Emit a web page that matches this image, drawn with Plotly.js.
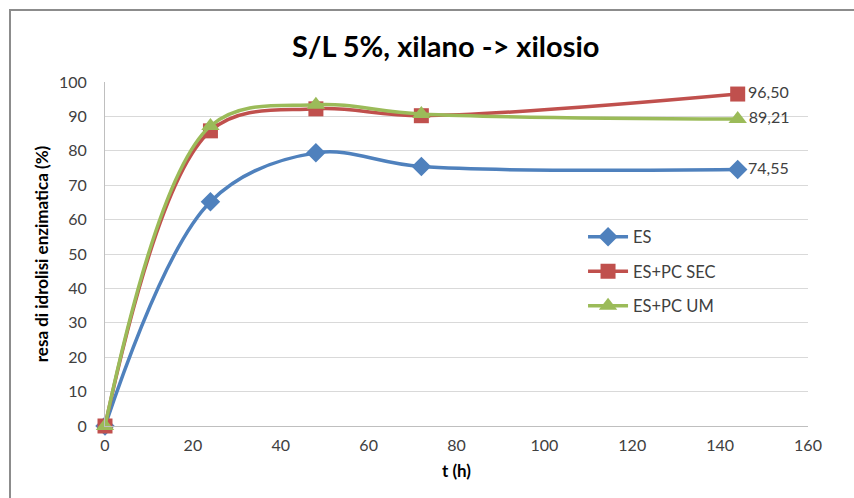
<!DOCTYPE html>
<html>
<head>
<meta charset="utf-8">
<script src="https://cdn.plot.ly/plotly-3.0.1.min.js"></script>
<style>
  html, body { margin: 0; padding: 0; background: #fff; }
  #wrap { position: relative; width: 854px; height: 498px; overflow: hidden; }
  #chart { width: 854px; height: 498px; }
  #frame { position: absolute; left: 9px; top: 9px; width: 900px; height: 600px;
           border-left: 2px solid #8c8c8c; border-top: 2px solid #8c8c8c; pointer-events: none; }
</style>
</head>
<body>
<div id="wrap">
  <div id="chart"></div>
  <div id="frame"></div>
</div>
<script>
const times = [0, 24, 48, 72, 144];
const seriesNames = ['ES', 'ES+PC SEC', 'ES+PC UM'];
const esValues = [0, 65.2, 79.4, 75.4, 74.55];
const secValues = [0, 85.8, 92.2, 90.2, 96.50];
const umValues = [0, 87.2, 93.4, 90.7, 89.21];
const esLabels = ['', '', '', '', '74,55'];
const secLabels = ['', '', '', '', '96,50'];
const umLabels = ['', '', '', '', '89,21'];

const colors = ['#4f81bd', '#c0504d', '#9bbb59'];
const symbols = ['diamond', 'square', 'triangle-up'];
const sizes = [15, 15, 16];
const vals = [esValues, secValues, umValues];
const labs = [esLabels, secLabels, umLabels];

const traces = seriesNames.map((n, i) => ({
  x: times, y: vals[i], name: n, type: 'scatter',
  mode: 'lines+markers+text',
  text: labs[i], textposition: 'middle right',
  textfont: { family: 'Lato, sans-serif', size: 16, color: '#404040' },
  line: { color: colors[i], width: 3.5, shape: 'spline', smoothing: 1 },
  marker: { symbol: symbols[i], size: sizes[i], color: colors[i] },
  legendgroup: 'g' + i,
  cliponaxis: false
}));

const layout = {
  width: 854, height: 498,
  margin: { l: 105, r: 46, t: 82, b: 72 },
  paper_bgcolor: '#ffffff', plot_bgcolor: '#ffffff',
  font: { family: 'Lato, sans-serif', color: '#404040' },
  title: { text: '<b>S/L 5%, xilano -> xilosio</b>', font: { family: 'Lato, sans-serif', size: 29, color: '#000' },
           x: 0.522, xanchor: 'center', y: 0.905, yanchor: 'middle' },
  xaxis: {
    range: [0, 160], dtick: 20, tick0: 0,
    showgrid: false, zeroline: false,
    showline: true, linecolor: '#bfbfbf', linewidth: 1,
    ticks: '', ticklabelstandoff: 5, tickfont: { size: 16, color: '#404040' },
    title: { text: '<b>t (h)</b>', font: { size: 17, color: '#000' }, standoff: 11 }
  },
  yaxis: {
    range: [0, 100], dtick: 10, tick0: 0,
    showgrid: true, gridcolor: '#d9d9d9', gridwidth: 1,
    zeroline: false, showline: true, linecolor: '#bfbfbf', linewidth: 1,
    ticks: '', ticklen: 0, ticklabelstandoff: 14, tickfont: { size: 16, color: '#404040' },
    title: { text: '<b>resa di idrolisi enzimatica (%)</b>', font: { size: 17, color: '#000' }, standoff: 6 }
  },
  showlegend: true,
  legend: {
    x: 0.68, y: 0.6, xanchor: 'left', yanchor: 'top',
    bgcolor: 'rgba(0,0,0,0)', borderwidth: 0,
    font: { size: 16.5, color: '#404040' },
    traceorder: 'grouped', tracegroupgap: 10,
    itemwidth: 40
  }
};

Plotly.newPlot('chart', traces, layout, { displayModeBar: false, staticPlot: true });
</script>
</body>
</html>
